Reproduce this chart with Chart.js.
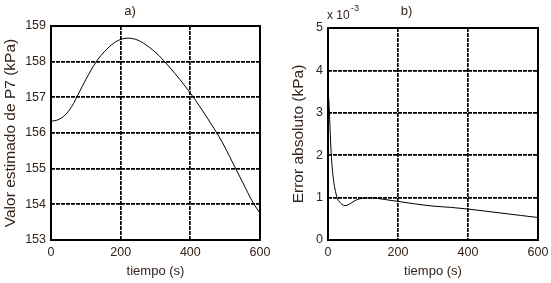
<!DOCTYPE html>
<html>
<head>
<meta charset="utf-8">
<script src="https://cdn.jsdelivr.net/npm/chart.js@4"></script>
<style>
  html, body { margin: 0; padding: 0; background: #fff; }
  #wrap { position: relative; width: 551px; height: 283px; }
  canvas { position: absolute; top: 0; }
  #chartA { left: 0; }
  #chartB { left: 275px; }
</style>
</head>
<body>
<div id="wrap">
  <canvas id="chartA" width="275" height="283"></canvas>
  <canvas id="chartB" width="276" height="283"></canvas>
</div>
<script>
// a) estimated value of P7 (kPa) vs time (s)
const timeA = [0, 20, 40, 60, 80, 100, 130, 160, 190, 220, 250, 280, 310, 340, 370, 400, 430, 460, 490, 520, 550, 580, 600];
const valueA = [156.33, 156.37, 156.5, 156.75, 157.12, 157.5, 158.0, 158.35, 158.58, 158.66, 158.6, 158.42, 158.17, 157.85, 157.5, 157.12, 156.7, 156.25, 155.77, 155.2, 154.62, 154.05, 153.75];

// b) absolute error (x 10^-3 kPa) vs time (s)
const timeB = [0, 3, 6, 9, 12, 16, 20, 26, 33, 40, 49, 60, 75, 90, 110, 130, 150, 200, 250, 300, 350, 400, 450, 500, 550, 600];
const errorB = [3.5, 3.2, 2.6, 2.05, 1.7, 1.4, 1.2, 1.0, 0.9, 0.84, 0.81, 0.84, 0.92, 0.97, 0.99, 0.99, 0.97, 0.91, 0.85, 0.8, 0.77, 0.73, 0.68, 0.63, 0.58, 0.53];

const timeTicks = [0, 200, 400, 600];
const textColor = '#33241b';
const font = 'Liberation Sans, Arial, sans-serif';

const toPoints = (xs, ys) => xs.map((x, i) => ({ x: x, y: ys[i] }));

const framePlugin = {
  id: 'frame',
  afterDatasetsDraw(chart) {
    const a = chart.chartArea;
    const ctx = chart.ctx;
    ctx.save();
    ctx.strokeStyle = '#000';
    ctx.lineWidth = 2;
    ctx.strokeRect(a.left, a.top, a.right - a.left, a.bottom - a.top);
    ctx.restore();
  }
};

const exponentPlugin = {
  id: 'exponent',
  afterDraw(chart) {
    const ctx = chart.ctx;
    const a = chart.chartArea;
    ctx.save();
    ctx.fillStyle = textColor;
    ctx.font = '12px ' + font;
    ctx.textBaseline = 'alphabetic';
    ctx.fillText('x 10', a.left - 1, 19);
    ctx.font = '9px ' + font;
    ctx.fillText('-3', a.left + 23, 11);
    ctx.restore();
  }
};

function makeChart(id, xs, ys, opts) {
  new Chart(document.getElementById(id).getContext('2d'), {
    type: 'line',
    data: {
      datasets: [{
        data: toPoints(xs, ys),
        borderColor: '#000',
        borderWidth: 1,
        pointRadius: 0,
        cubicInterpolationMode: 'monotone',
        clip: false
      }]
    },
    options: {
      responsive: false,
      animation: false,
      devicePixelRatio: 1,
      layout: { padding: { left: 0, right: opts.padRight, top: 0, bottom: 0 } },
      plugins: {
        legend: { display: false },
        tooltip: { enabled: false },
        title: {
          display: true,
          text: opts.title,
          color: textColor,
          font: { family: font, size: 13, weight: 'normal', lineHeight: 1.2 },
          padding: { top: 4, bottom: opts.titleBottom }
        }
      },
      scales: {
        x: {
          type: 'linear',
          min: 0, max: 600,
          afterBuildTicks: s => { s.ticks = timeTicks.map(v => ({ value: v })); },
          afterFit: s => { s.height = 43; },
          border: { display: false, dash: [4, 1] },
          grid: { color: '#000', lineWidth: 1.7, drawTicks: true, tickLength: 5, tickColor: 'rgba(0,0,0,0)' },
          ticks: { color: textColor, font: { family: font, size: 12.5 }, padding: 0, maxRotation: 0 },
          title: { display: true, text: 'tiempo (s)', color: textColor, font: { family: font, size: 13 }, padding: { top: 3 } }
        },
        y: {
          min: opts.yMin, max: opts.yMax,
          ticks: { stepSize: 1, color: textColor, font: { family: font, size: 12.5 }, padding: 5 },
          afterFit: s => { s.width = opts.yWidth; },
          border: { display: false, dash: [4, 1] },
          grid: { color: '#000', lineWidth: 1.7, drawTicks: false },
          title: { display: true, text: opts.yTitle, color: textColor, font: { family: font, size: 15.5 }, padding: { top: opts.yTitlePad } }
        }
      }
    },
    plugins: opts.plugins
  });
}

makeChart('chartA', timeA, valueA, {
  title: 'a)', titleBottom: 6.4, padRight: 15,
  yMin: 153, yMax: 159, yWidth: 51, yTitlePad: 1.5,
  yTitle: 'Valor estimado de P7 (kPa)',
  plugins: [framePlugin]
});

makeChart('chartB', timeB, errorB, {
  title: 'b)', titleBottom: 8.4, padRight: 13,
  yMin: 0, yMax: 5, yWidth: 53, yTitlePad: 14.5,
  yTitle: 'Error absoluto (kPa)',
  plugins: [framePlugin, exponentPlugin]
});
</script>
</body>
</html>
